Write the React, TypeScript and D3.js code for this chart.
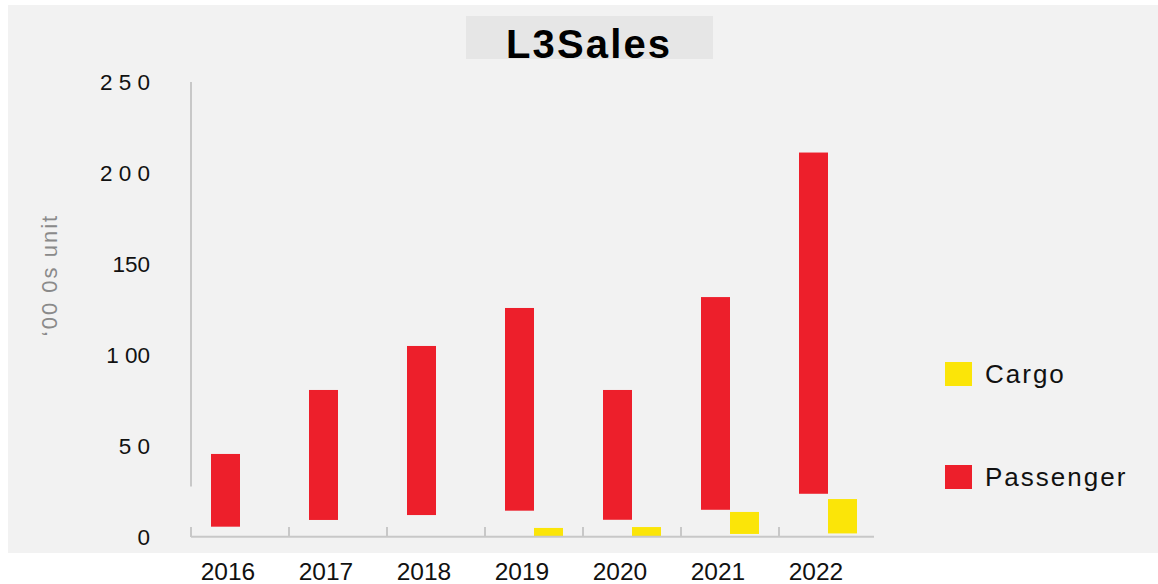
import { useEffect, useRef } from 'react';
import * as d3 from 'd3';

// Chart data (units: '000s)
const years = ['2016', '2017', '2018', '2019', '2020', '2021', '2022'];
const passengerLow = [5.4, 9.1, 11.8, 14.2, 9.2, 14.7, 23.5];
const passengerHigh = [45.4, 80.6, 104.8, 125.7, 80.6, 131.7, 211.2];
const cargoLow = [0, 0, 0, 0, 0, 1.4, 1.7];
const cargoHigh = [0, 0, 0, 4.7, 5.2, 13.5, 20.6];
const yTicks = [0, 50, 100, 150, 200, 250];
const yTickLabels = ['0', '5 0', '1 00', '150', '2 0 0', '2 5 0'];
const seriesNames = ['Passenger', 'Cargo'];

const FONT = '"Liberation Sans", Arial, sans-serif';
const RED = '#ed1f2b';
const YELLOW = '#fbe508';
const AXIS = '#c8c8c8';

export default function App() {
  const svgRef = useRef<SVGSVGElement>(null);

  useEffect(() => {
    if (!svgRef.current) return;
    const width = 1158;
    const height = 584;

    d3.select(svgRef.current).selectAll('*').remove();
    const svg = d3
      .select(svgRef.current)
      .attr('width', width)
      .attr('height', height)
      .style('font-family', FONT);

    // Background panel + title box
    svg.append('rect').attr('x', 8).attr('y', 5).attr('width', 1150).attr('height', 548).attr('fill', '#f2f2f2');
    svg.append('rect').attr('x', 466).attr('y', 16).attr('width', 247).attr('height', 43).attr('fill', '#e6e6e6');
    svg
      .append('text')
      .attr('x', 506)
      .attr('y', 58)
      .attr('font-size', 40)
      .attr('font-weight', 'bold')
      .attr('fill', '#000')
      .attr('textLength', 164)
      .attr('lengthAdjust', 'spacing')
      .text('L3Sales');

    // Scales
    const x = d3.scaleBand<string>().domain(years).range([191, 877]);
    const inner = d3.scaleBand<string>().domain(seriesNames).range([20, 78]);
    const y = d3.scaleLinear().domain([0, 250]).range([536.5, 82]);

    const rows = years.map((yr, i) => ({
      year: yr,
      bars: [
        { key: 'Passenger', lo: passengerLow[i], hi: passengerHigh[i], color: RED },
        { key: 'Cargo', lo: cargoLow[i], hi: cargoHigh[i], color: YELLOW },
      ],
    }));

    // Bars
    const groups = svg
      .append('g')
      .selectAll('g')
      .data(rows)
      .join('g')
      .attr('transform', (d) => `translate(${x(d.year)},0)`);

    groups
      .selectAll('rect')
      .data((d) => d.bars.filter((b) => b.hi > b.lo))
      .join('rect')
      .attr('x', (d) => inner(d.key)!)
      .attr('width', inner.bandwidth())
      .attr('y', (d) => y(d.hi))
      .attr('height', (d) => y(d.lo) - y(d.hi))
      .attr('fill', (d) => d.color);

    // Axes lines
    const x0 = x(years[0])!;
    svg.append('line').attr('x1', x0).attr('x2', x0).attr('y1', y(250)).attr('y2', y(27.5))
      .attr('stroke', AXIS).attr('stroke-width', 2);
    svg.append('line').attr('x1', x0).attr('x2', 874).attr('y1', 536.7).attr('y2', 536.7)
      .attr('stroke', AXIS).attr('stroke-width', 2);
    svg.append('g')
      .selectAll('line')
      .data(years)
      .join('line')
      .attr('x1', (d) => x(d)!)
      .attr('x2', (d) => x(d)!)
      .attr('y1', 527)
      .attr('y2', 537)
      .attr('stroke', AXIS)
      .attr('stroke-width', 2);

    // Y tick labels
    const yAxis = svg
      .append('g')
      .attr('transform', 'translate(150,0)')
      .call(
        d3
          .axisLeft(y)
          .tickValues(yTicks)
          .tickSize(0)
          .tickPadding(0)
          .tickFormat((_, i) => yTickLabels[i]),
      );
    yAxis.select('.domain').remove();
    yAxis
      .selectAll('text')
      .attr('font-family', FONT)
      .attr('font-size', 22.5)
      .attr('fill', '#111')
      .attr('text-anchor', 'end')
      .attr('x', 0)
      .attr('dy', '0.35em');

    // X labels
    svg
      .append('g')
      .selectAll('text')
      .data(years)
      .join('text')
      .attr('x', (d) => x(d)! + x.bandwidth() / 2 - 12)
      .attr('y', 580)
      .attr('text-anchor', 'middle')
      .attr('font-size', 24.5)
      .attr('fill', '#111')
      .text((d) => d);

    // Y title
    svg
      .append('text')
      .attr('transform', 'translate(57,275) rotate(-90)')
      .attr('text-anchor', 'middle')
      .attr('font-size', 22)
      .attr('letter-spacing', 2)
      .attr('fill', '#8a8a8a')
      .text('‘00 0s unit');

    // Legend
    const legend = [
      { name: 'Cargo', color: YELLOW, y: 362 },
      { name: 'Passenger', color: RED, y: 465 },
    ];
    const lg = svg.append('g').selectAll('g').data(legend).join('g');
    lg.append('rect').attr('x', 945).attr('y', (d) => d.y).attr('width', 27).attr('height', 24)
      .attr('fill', (d) => d.color);
    lg.append('text')
      .attr('x', 985)
      .attr('y', (d) => d.y + 21)
      .attr('font-size', 26)
      .attr('letter-spacing', 2)
      .attr('fill', '#111')
      .text((d) => d.name);
  }, []);

  return <svg ref={svgRef} style={{ position: 'absolute', left: 0, top: 0 }} />;
}
